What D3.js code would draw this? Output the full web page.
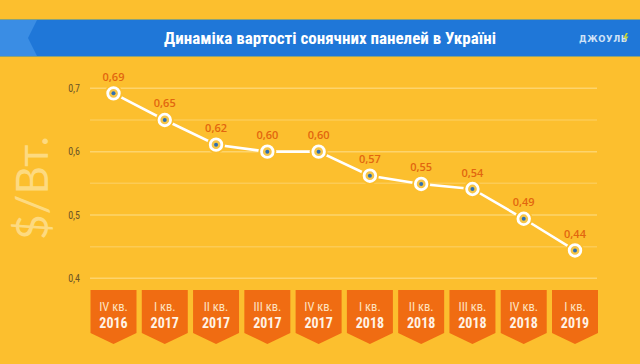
<!DOCTYPE html>
<html><head><meta charset="utf-8">
<script src="https://cdn.jsdelivr.net/npm/d3@7"></script>
<style>
html,body{margin:0;padding:0;background:#FCBF2E;}
svg{display:block;}
</style></head>
<body>
<svg id="c" width="640" height="364"></svg>
<script>
const quarters = ["IV кв.","I кв.","II кв.","III кв.","IV кв.","I кв.","II кв.","III кв.","IV кв.","I кв."];
const years = ["2016","2017","2017","2017","2017","2018","2018","2018","2018","2019"];
const values = [0.692,0.65,0.611,0.60,0.60,0.562,0.549,0.541,0.494,0.444];
const valueLabels = ["0,69","0,65","0,62","0,60","0,60","0,57","0,55","0,54","0,49","0,44"];
const yTicks = [0.4,0.5,0.6,0.7];
const yGrid = [0.4,0.45,0.5,0.55,0.6,0.65,0.7];
const title = "Динаміка вартості сонячних панелей в Україні";
const yTitle = "$/Вт.";
const brand = "ДЖОУЛЬ";

const cond = "'Liberation Sans Narrow','Roboto Condensed','DejaVu Sans Condensed',sans-serif";
const svg = d3.select("#c");
const cats = quarters.map((q,i)=>i);
const x = d3.scalePoint().domain(cats).range([113.5,575]);
const y = d3.scaleLinear().domain([0.4,0.7]).range([278.3,88.3]);

// background
svg.append("rect").attr("width",640).attr("height",364).attr("fill","#FCBF2E");

// header band
svg.append("rect").attr("x",0).attr("y",19).attr("width",640).attr("height",38).attr("fill","#8aa27a");
svg.append("rect").attr("x",0).attr("y",20).attr("width",640).attr("height",36).attr("fill","#3A8DE4");
svg.append("path").attr("d","M37,20 L640,20 L640,56 L37,56 L28,38 Z").attr("fill","#1F77D8");
svg.append("text").attr("x",330).attr("y",44).attr("text-anchor","middle")
  .attr("fill","#ffffff").attr("font-family",cond).attr("font-weight","bold").attr("font-size",17)
  .text(title);
svg.append("text").attr("x",579).attr("y",42).attr("fill","#cfe2f7")
  .attr("font-family","'DejaVu Sans',sans-serif").attr("font-weight","bold").attr("font-size",8.5)
  .attr("letter-spacing",0.6).text(brand);
svg.append("path").attr("d","M626,33 L623.5,38 L626,38 L624,42.5 L628.5,36.5 L626,36.5 L628,33 Z").attr("fill","#c8d83a");

// gridlines
svg.append("g").selectAll("line").data(yGrid).join("line")
  .attr("x1",90).attr("x2",597).attr("y1",d=>y(d)).attr("y2",d=>y(d))
  .attr("stroke",d=>Math.abs(d*10-Math.round(d*10))<1e-6?"#FDD46C":"#FCCB55").attr("stroke-width",1.5);

// y axis labels
const yAxis = d3.axisLeft(y).tickValues(yTicks).tickSize(0).tickPadding(0)
  .tickFormat(d=>d3.format(".1f")(d).replace(".",","));
const ga = svg.append("g").attr("transform","translate(80,0)").call(yAxis);
ga.select(".domain").remove();
ga.selectAll("text").attr("fill","#6b5427").attr("font-family",cond).attr("font-size",10);

// y title
svg.append("text").attr("transform","translate(48,188) rotate(-90)").attr("text-anchor","middle")
  .attr("fill","#FDDA80").attr("font-family","Lato,sans-serif").attr("font-weight",400)
  .attr("font-size",44).text(yTitle);

// line
const line = d3.line().x((d,i)=>x(i)).y(d=>y(d));
svg.append("path").datum(values).attr("d",line).attr("fill","none")
  .attr("stroke","#ffffff").attr("stroke-width",2.6);

// markers
const m = svg.append("g").selectAll("g").data(values).join("g")
  .attr("transform",(d,i)=>`translate(${x(i)},${y(d)})`);
m.append("circle").attr("r",9).attr("fill","#FCBF2E");
m.append("circle").attr("r",5.8).attr("fill","#F5C548").attr("stroke","#ffffff").attr("stroke-width",2.8);
m.append("circle").attr("r",2).attr("fill","#2F6FB3");

// value labels
svg.append("g").selectAll("text").data(values).join("text")
  .attr("x",(d,i)=>x(i)).attr("y",d=>y(d)-12.5).attr("text-anchor","middle")
  .attr("fill","#E2660F").attr("font-family","'Open Sans',sans-serif").attr("font-weight",600)
  .attr("font-size",11).text((d,i)=>valueLabels[i]);

// badges
const b = svg.append("g").selectAll("g").data(cats).join("g")
  .attr("transform",i=>`translate(${x(i)},0)`);
b.append("path").attr("d","M-23,290 L23,290 L23,333 L0,344 L-23,333 Z").attr("fill","#F06C12");
b.append("text").attr("y",311).attr("text-anchor","middle").attr("fill","#FDE2C0")
  .attr("font-family",cond).attr("font-size",12.5).text(i=>quarters[i]);
b.append("text").attr("y",328).attr("text-anchor","middle").attr("fill","#FFF3E6")
  .attr("font-family",cond).attr("font-weight","bold").attr("font-size",14).text(i=>years[i]);
</script>
</body></html>
